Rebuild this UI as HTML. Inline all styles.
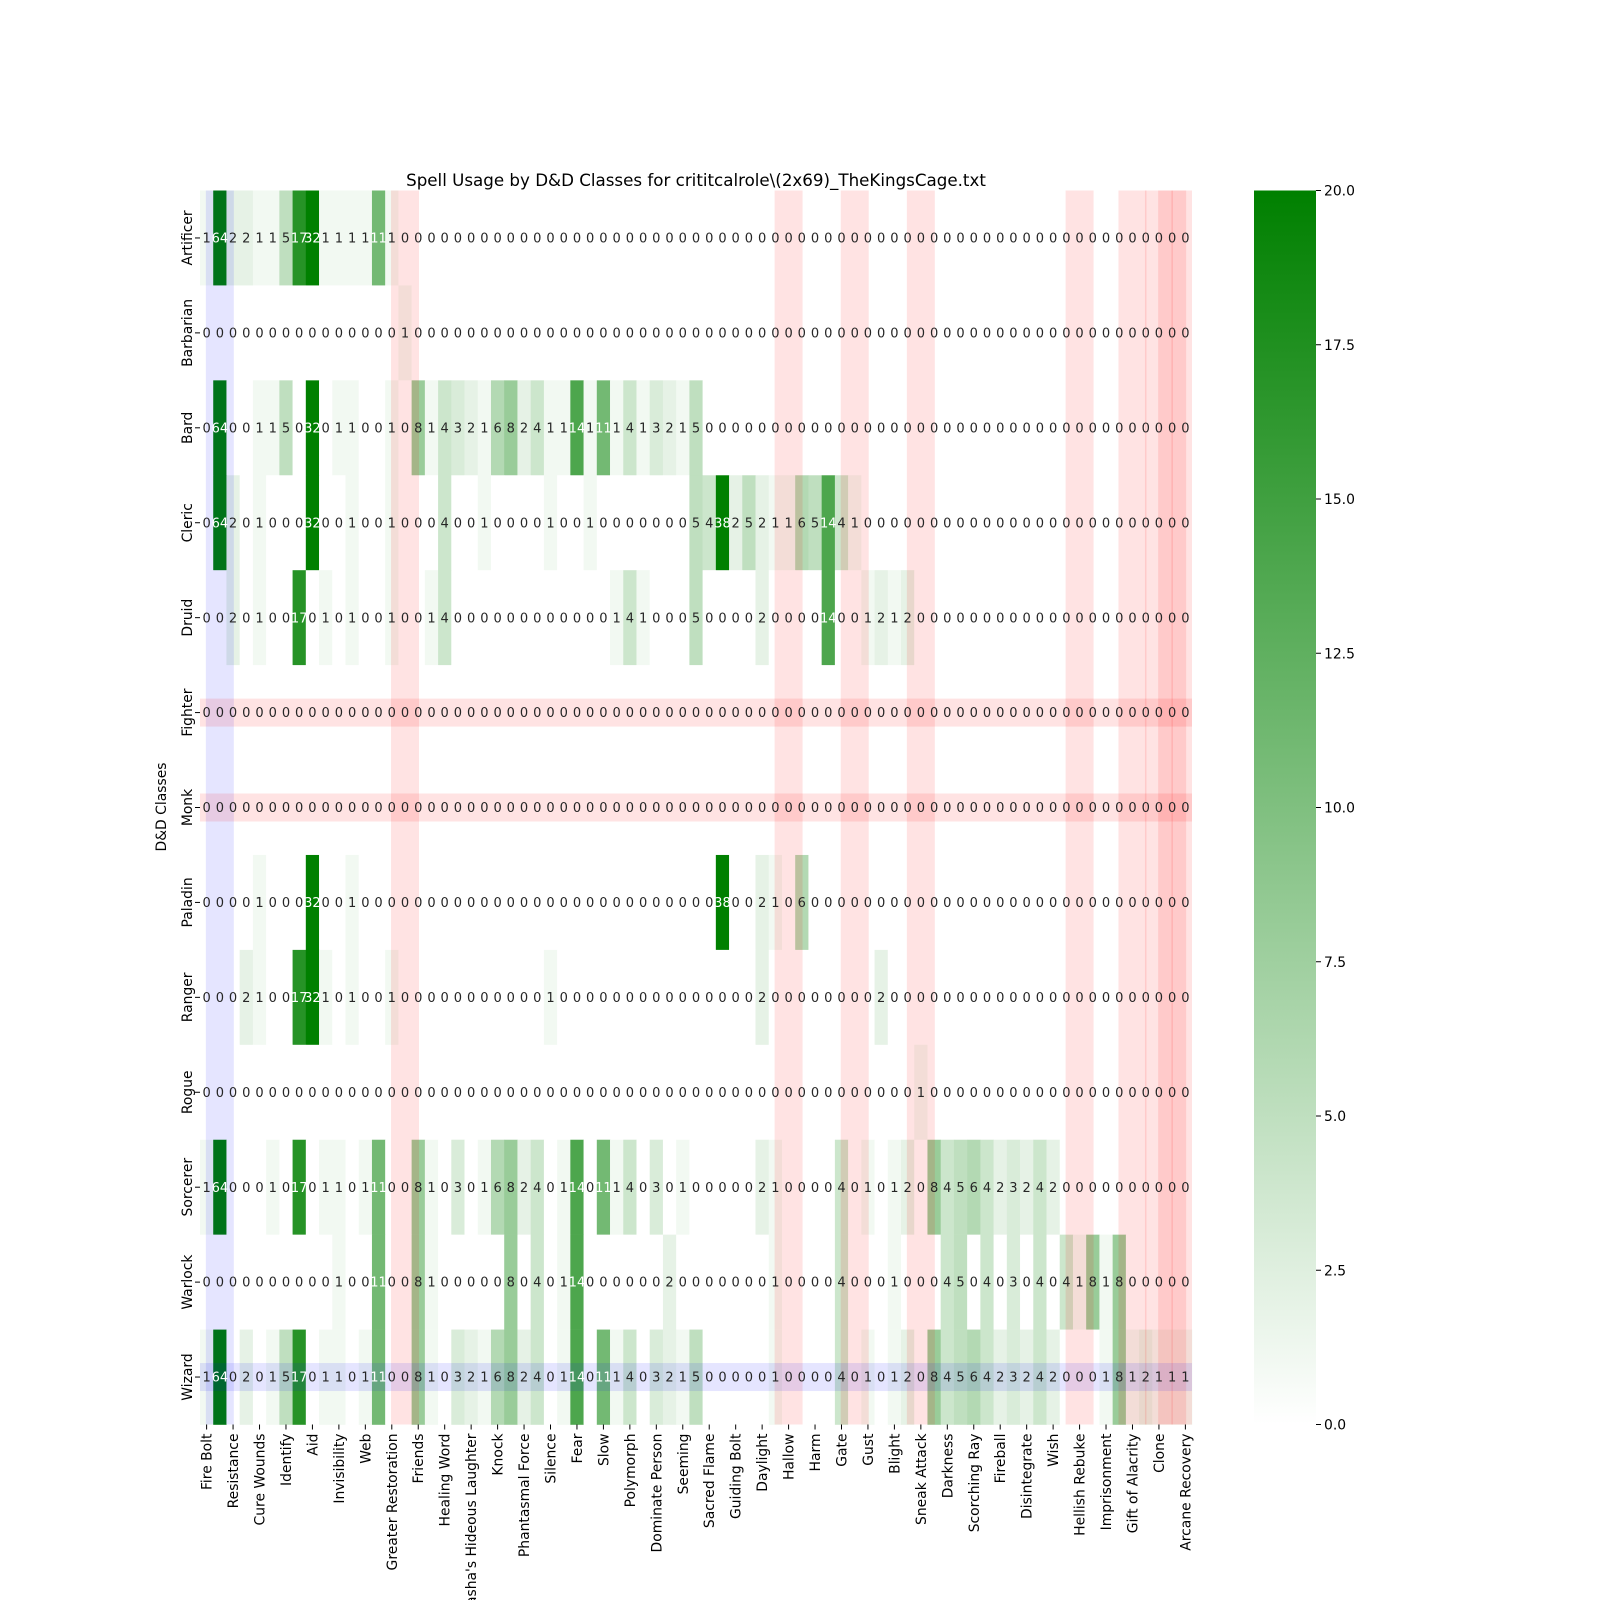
<!DOCTYPE html>
<html><head><meta charset="utf-8"><title>Spell Usage Heatmap</title>
<style>
html,body{margin:0;padding:0;background:#fff;}
svg{display:block;font-family:"DejaVu Sans","Liberation Sans",sans-serif;}
</style></head>
<body>
<svg id="chart" width="1600" height="1600" viewBox="0 0 1600 1600" xmlns="http://www.w3.org/2000/svg">
<defs>
<linearGradient id="cbgrad" x1="0" y1="1" x2="0" y2="0">
<stop offset="0" stop-color="#ffffff"/><stop offset="1" stop-color="#008000"/>
</linearGradient>
<clipPath id="hmclip"><rect x="200" y="190.5" width="992" height="1234"/></clipPath>
</defs>
<text x="696" y="186" font-size="16.7" text-anchor="middle" fill="#000">Spell Usage by D&amp;D Classes for crititcalrole\(2x69)_TheKingsCage.txt</text>
<g id="cells"></g>
<g id="overlays" clip-path="url(#hmclip)"></g>
<g id="annots"></g>
<g id="yaxis"></g>
<g id="xaxis"></g>
<text transform="translate(166,807) rotate(-90)" font-size="13.9" text-anchor="middle" fill="#000">D&amp;D Classes</text>
<rect x="1254" y="190.5" width="62" height="1234" fill="url(#cbgrad)"/>
<g id="cbticks"></g>
</svg>
<script>
const classes = ["Artificer","Barbarian","Bard","Cleric","Druid","Fighter","Monk","Paladin","Ranger","Rogue","Sorcerer","Warlock","Wizard"];
const spellLabels = ["Fire Bolt","Resistance","Cure Wounds","Identify","Aid","Invisibility","Web","Greater Restoration","Friends","Healing Word","Tasha's Hideous Laughter","Knock","Phantasmal Force","Silence","Fear","Slow","Polymorph","Dominate Person","Seeming","Sacred Flame","Guiding Bolt","Daylight","Hallow","Harm","Gate","Gust","Blight","Sneak Attack","Darkness","Scorching Ray","Fireball","Disintegrate","Wish","Hellish Rebuke","Imprisonment","Gift of Alacrity","Clone","Arcane Recovery"];
const rowArtificer = [1,64,2,2,1,1,5,17,32,1, 1,1,1,11,1,0,0,0,0,0, 0,0,0,0,0,0,0,0,0,0, 0,0,0,0,0,0,0,0,0,0, 0,0,0,0,0,0,0,0,0,0, 0,0,0,0,0,0,0,0,0,0, 0,0,0,0,0,0,0,0,0,0, 0,0,0,0,0];
const rowBarbarian = [0,0,0,0,0,0,0,0,0,0, 0,0,0,0,0,1,0,0,0,0, 0,0,0,0,0,0,0,0,0,0, 0,0,0,0,0,0,0,0,0,0, 0,0,0,0,0,0,0,0,0,0, 0,0,0,0,0,0,0,0,0,0, 0,0,0,0,0,0,0,0,0,0, 0,0,0,0,0];
const rowBard = [0,64,0,0,1,1,5,0,32,0, 1,1,0,0,1,0,8,1,4,3, 2,1,6,8,2,4,1,1,14,1, 11,1,4,1,3,2,1,5,0,0, 0,0,0,0,0,0,0,0,0,0, 0,0,0,0,0,0,0,0,0,0, 0,0,0,0,0,0,0,0,0,0, 0,0,0,0,0];
const rowCleric = [0,64,2,0,1,0,0,0,32,0, 0,1,0,0,1,0,0,0,4,0, 0,1,0,0,0,0,1,0,0,1, 0,0,0,0,0,0,0,5,4,38, 2,5,2,1,1,6,5,14,4,1, 0,0,0,0,0,0,0,0,0,0, 0,0,0,0,0,0,0,0,0,0, 0,0,0,0,0];
const rowDruid = [0,0,2,0,1,0,0,17,0,1, 0,1,0,0,1,0,0,1,4,0, 0,0,0,0,0,0,0,0,0,0, 0,1,4,1,0,0,0,5,0,0, 0,0,2,0,0,0,0,14,0,0, 1,2,1,2,0,0,0,0,0,0, 0,0,0,0,0,0,0,0,0,0, 0,0,0,0,0];
const rowFighter = [0,0,0,0,0,0,0,0,0,0, 0,0,0,0,0,0,0,0,0,0, 0,0,0,0,0,0,0,0,0,0, 0,0,0,0,0,0,0,0,0,0, 0,0,0,0,0,0,0,0,0,0, 0,0,0,0,0,0,0,0,0,0, 0,0,0,0,0,0,0,0,0,0, 0,0,0,0,0];
const rowMonk = [0,0,0,0,0,0,0,0,0,0, 0,0,0,0,0,0,0,0,0,0, 0,0,0,0,0,0,0,0,0,0, 0,0,0,0,0,0,0,0,0,0, 0,0,0,0,0,0,0,0,0,0, 0,0,0,0,0,0,0,0,0,0, 0,0,0,0,0,0,0,0,0,0, 0,0,0,0,0];
const rowPaladin = [0,0,0,0,1,0,0,0,32,0, 0,1,0,0,0,0,0,0,0,0, 0,0,0,0,0,0,0,0,0,0, 0,0,0,0,0,0,0,0,0,38, 0,0,2,1,0,6,0,0,0,0, 0,0,0,0,0,0,0,0,0,0, 0,0,0,0,0,0,0,0,0,0, 0,0,0,0,0];
const rowRanger = [0,0,0,2,1,0,0,17,32,1, 0,1,0,0,1,0,0,0,0,0, 0,0,0,0,0,0,1,0,0,0, 0,0,0,0,0,0,0,0,0,0, 0,0,2,0,0,0,0,0,0,0, 0,2,0,0,0,0,0,0,0,0, 0,0,0,0,0,0,0,0,0,0, 0,0,0,0,0];
const rowRogue = [0,0,0,0,0,0,0,0,0,0, 0,0,0,0,0,0,0,0,0,0, 0,0,0,0,0,0,0,0,0,0, 0,0,0,0,0,0,0,0,0,0, 0,0,0,0,0,0,0,0,0,0, 0,0,0,0,1,0,0,0,0,0, 0,0,0,0,0,0,0,0,0,0, 0,0,0,0,0];
const rowSorcerer = [1,64,0,0,0,1,0,17,0,1, 1,0,1,11,0,0,8,1,0,3, 0,1,6,8,2,4,0,1,14,0, 11,1,4,0,3,0,1,0,0,0, 0,0,2,1,0,0,0,0,4,0, 1,0,1,2,0,8,4,5,6,4, 2,3,2,4,2,0,0,0,0,0, 0,0,0,0,0];
const rowWarlock = [0,0,0,0,0,0,0,0,0,0, 1,0,0,11,0,0,8,1,0,0, 0,0,0,8,0,4,0,1,14,0, 0,0,0,0,0,2,0,0,0,0, 0,0,0,1,0,0,0,0,4,0, 0,0,1,0,0,0,4,5,0,4, 0,3,0,4,0,4,1,8,1,8, 0,0,0,0,0];
const rowWizard = [1,64,0,2,0,1,5,17,0,1, 1,0,1,11,0,0,8,1,0,3, 2,1,6,8,2,4,0,1,14,0, 11,1,4,0,3,2,1,5,0,0, 0,0,0,1,0,0,0,0,4,0, 1,0,1,2,0,8,4,5,6,4, 2,3,2,4,2,0,0,0,1,8, 1,2,1,1,1];
const redCols = [15,44,49,54,66,70,72,73,74];
const blueCols = [1];
const redRows = [5,6];
const blueRows = [12];
const cbTicks = [0,2.5,5,7.5,10,12.5,15,17.5,20];
const cbTickLabels = ["0.0","2.5","5.0","7.5","10.0","12.5","15.0","17.5","20.0"];

const matrix = [rowArtificer,rowBarbarian,rowBard,rowCleric,rowDruid,rowFighter,rowMonk,rowPaladin,rowRanger,rowRogue,rowSorcerer,rowWarlock,rowWizard];
const NS = "http://www.w3.org/2000/svg";
const X0 = 200, X1 = 1192, Y0 = 190.5, Y1 = 1424.5;
const nCols = rowArtificer.length, nRows = classes.length;
const cw = (X1 - X0) / nCols, rh = (Y1 - Y0) / nRows;
const VMAX = 20;
function xPos(c){ return X0 + c * cw; }
function yPos(r){ return Y0 + r * rh; }
function cbY(v){ return Y1 - (v / VMAX) * (Y1 - Y0); }
function color(v){
  const t = Math.min(v / VMAX, 1);
  const r = Math.round(255 * (1 - t)), g = Math.round(255 - (255 - 128) * t), b = Math.round(255 * (1 - t));
  return "rgb(" + r + "," + g + "," + b + ")";
}
function mk(tag, attrs){ const e = document.createElementNS(NS, tag); for (const k in attrs) e.setAttribute(k, attrs[k]); return e; }

const gCells = document.getElementById("cells");
const gAnn = document.getElementById("annots");
for (let r = 0; r < nRows; r++) {
  for (let c = 0; c < nCols; c++) {
    const v = matrix[r][c];
    const rect = mk("rect", {x: xPos(c), y: yPos(r), width: cw + 0.3, height: rh + 0.3, fill: color(v)});
    
    
    gCells.appendChild(rect);
    const t = mk("text", {x: xPos(c) + cw / 2, y: yPos(r) + rh / 2 + 4.6, "font-size": 13, "text-anchor": "middle", fill: v >= 10 ? "#ffffff" : "#262626"});
    t.textContent = String(v);
    
    
    gAnn.appendChild(t);
  }
}

const gOv = document.getElementById("overlays");
redCols.forEach(function(c){
  const o = mk("rect", {x: xPos(c) + cw / 2 - 14, y: Y0, width: 28, height: Y1 - Y0, fill: "rgba(255,0,0,0.11)"});
  
  
  gOv.appendChild(o);
});
blueCols.forEach(function(c){
  const o = mk("rect", {x: xPos(c) + cw / 2 - 14, y: Y0, width: 28, height: Y1 - Y0, fill: "rgba(0,0,255,0.1)"});
  
  
  gOv.appendChild(o);
});
redRows.forEach(function(r){
  const o = mk("rect", {x: X0, y: yPos(r) + rh / 2 - 14, width: X1 - X0, height: 28, fill: "rgba(255,0,0,0.11)"});
  
  
  gOv.appendChild(o);
});
blueRows.forEach(function(r){
  const o = mk("rect", {x: X0, y: yPos(r) + rh / 2 - 14, width: X1 - X0, height: 28, fill: "rgba(0,0,255,0.1)"});
  
  
  gOv.appendChild(o);
});

const gY = document.getElementById("yaxis");
classes.forEach(function(name, r){
  const cy = yPos(r) + rh / 2;
  const tk = mk("line", {x1: X0 - 5, x2: X0, y1: cy, y2: cy, stroke: "#000", "stroke-width": 1});
  
  
  gY.appendChild(tk);
  const t = mk("text", {transform: "translate(" + (X0 - 8) + "," + cy + ") rotate(-90)", "font-size": 13.9, "text-anchor": "middle", fill: "#000"});
  t.textContent = name;
  
  
  gY.appendChild(t);
});

const gX = document.getElementById("xaxis");
spellLabels.forEach(function(name, i){
  const c = i * 2;
  const cx = xPos(c) + cw / 2;
  const tk = mk("line", {x1: cx, x2: cx, y1: Y1, y2: Y1 + 5, stroke: "#000", "stroke-width": 1});
  
  
  gX.appendChild(tk);
  const t = mk("text", {transform: "translate(" + (cx + 5) + "," + (Y1 + 9) + ") rotate(-90)", "font-size": 13.9, "text-anchor": "end", fill: "#000"});
  t.textContent = name;
  
  
  gX.appendChild(t);
});

const gCb = document.getElementById("cbticks");
cbTicks.forEach(function(v, i){
  const y = cbY(v);
  const tk = mk("line", {x1: 1316, x2: 1321, y1: y, y2: y, stroke: "#000", "stroke-width": 1});
  
  
  gCb.appendChild(tk);
  const t = mk("text", {x: 1324, y: y + 5, "font-size": 13.9, fill: "#000"});
  t.textContent = cbTickLabels[i];
  
  
  gCb.appendChild(t);
});
</script>
</body></html>
